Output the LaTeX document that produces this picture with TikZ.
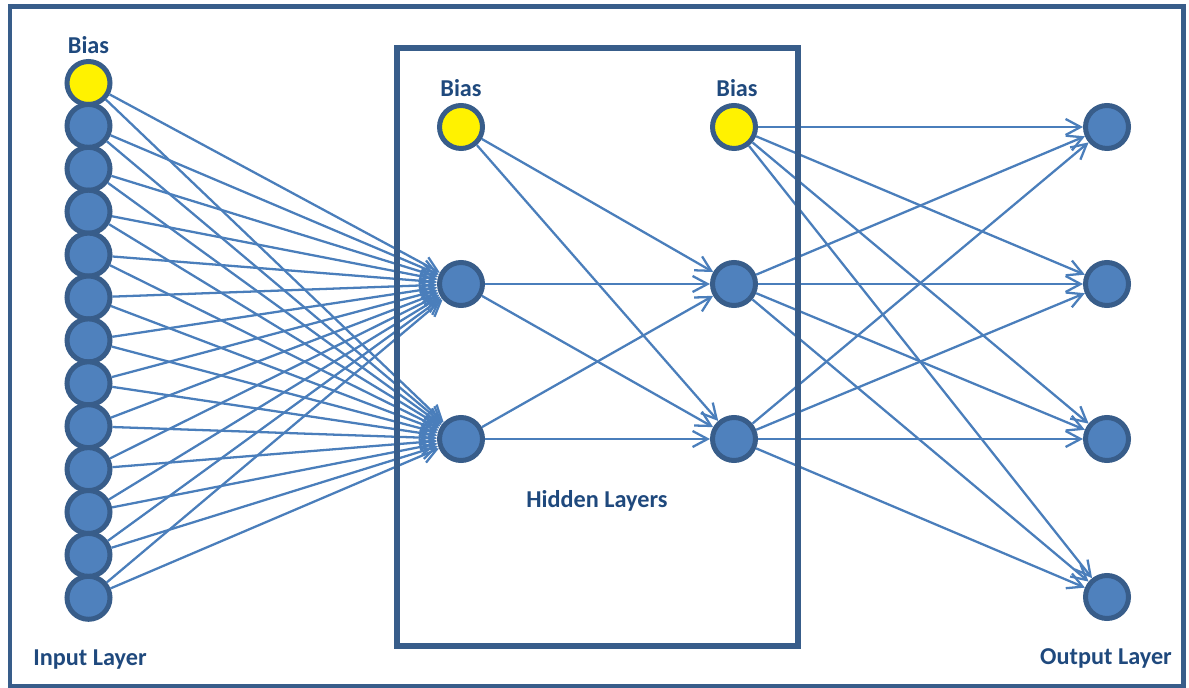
\documentclass[tikz,border=0pt]{standalone}
\usepackage{fontspec}
\setmainfont{Carlito}
\usepackage{tikz}
\usetikzlibrary{arrows.meta,positioning}
\usepackage{xcolor}

\definecolor{nnBlue}{HTML}{4F81BD}
\definecolor{nnBorder}{HTML}{385D8A}
\definecolor{nnEdge}{HTML}{4A7EBB}
\definecolor{nnText}{HTML}{1F497D}

\begin{document}
\begin{tikzpicture}[x=0.02cm, y=-0.02cm, >={Straight Barb[length=3mm, width=3.2mm]},
  unit/.style={circle, draw=nnBorder, line width=0.1cm, fill=nnBlue, minimum size=0.86cm, inner sep=0pt},
  bias/.style={unit, fill=yellow},
  lbl/.style={font=\fontsize{13.8}{16}\selectfont\bfseries, text=nnText, anchor=base, inner sep=0pt},
  link/.style={->, line width=1.3pt, nnEdge},
  frame/.style={draw=nnBorder}]
  \useasboundingbox (0,0) rectangle (1189,688);

  % input layer: bias on top, twelve inputs below
  \node[bias] (in0) at (88.5,83) {};
  \foreach \k in {1,...,12}
    \node[unit] (in\k) at (88.5,83+42.9*\k) {};

  % hidden layers
  \node[bias] (hA0) at (461,127) {};
  \node[unit] (hA1) at (461,284) {};
  \node[unit] (hA2) at (461,439) {};
  \node[bias] (hB0) at (734,127) {};
  \node[unit] (hB1) at (734,284) {};
  \node[unit] (hB2) at (734,439) {};

  % output layer
  \foreach \j/\y in {1/127,2/284,3/439,4/597}
    \node[unit] (out\j) at (1107,\y) {};

  % labels
  \node[lbl] (biasIn) at (88.5,54) {Bias};
  \node[lbl] (biasA) at (461,97) {Bias};
  \node[lbl] (biasB) at (737,97) {Bias};
  \node[lbl] (hidLbl) at (597,508) {Hidden Layers};
  \node[lbl] (inLbl) at (90,665) {Input Layer};
  \node[lbl] (outLbl) at (1106,664) {Output Layer};

  % weights
  \foreach \k in {0,...,12}
    \foreach \j in {1,2}
      \draw[link] (in\k) -- (hA\j);
  \foreach \k in {0,1,2}
    \foreach \j in {1,2}
      \draw[link] (hA\k) -- (hB\j);
  \foreach \k in {0,1,2}
    \foreach \j in {1,...,4}
      \draw[link] (hB\k) -- (out\j);

  % boxes
  \draw[frame, line width=0.12cm] (397,48) rectangle (798,646);
  \draw[frame, line width=0.1cm] (10,6.5) rectangle (1183.5,686.5);
\end{tikzpicture}
\end{document}
